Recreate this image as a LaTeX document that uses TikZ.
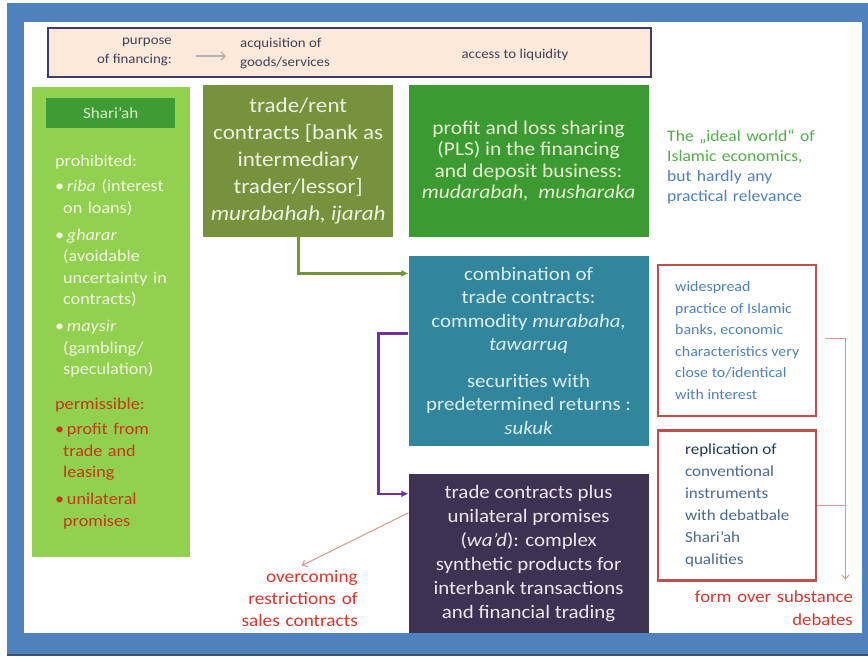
\documentclass[tikz,border=0pt]{standalone}
\usepackage{fontspec}
\setmainfont{Carlito}[FakeStretch=1.1]
\usetikzlibrary{
  arrows.meta,
  positioning
}
\definecolor{frameblue}{HTML}{4F81BD}
\definecolor{framedark}{HTML}{3A4F6A}
\definecolor{peach}{HTML}{FDE9D9}
\definecolor{barline}{HTML}{3C3C6E}
\definecolor{bartext}{HTML}{404058}
\definecolor{sharia}{HTML}{92D050}
\definecolor{shariadark}{HTML}{3E9B35}
\definecolor{shariatext}{HTML}{D8F0C0}
\definecolor{palegreen}{HTML}{F0F8E0}
\definecolor{permred}{HTML}{C03A12}
\definecolor{olive}{HTML}{76923C}
\definecolor{olivetext}{HTML}{EEF3E2}
\definecolor{plsgreen}{HTML}{3C9A32}
\definecolor{plstext}{HTML}{E6F0D0}
\definecolor{teal}{HTML}{31859C}
\definecolor{tealtext}{HTML}{DAEEF3}
\definecolor{plum}{HTML}{3F3151}
\definecolor{plumtext}{HTML}{ECE8F2}
\definecolor{purpleline}{HTML}{7030A0}
\definecolor{redline}{HTML}{C0504D}
\definecolor{pinkline}{HTML}{D99694}
\definecolor{notegreen}{HTML}{50B04A}
\definecolor{noteblue}{HTML}{4F81BD}
\definecolor{navytext}{HTML}{1F3A5F}
\definecolor{slatetext}{HTML}{4A6A94}
\definecolor{alertred}{HTML}{D9372B}
\tikzset{
  panel/.style={anchor=north west, inner sep=0pt, align=center},
  bigbox/.style={panel, minimum width=240pt},
  redbox/.style={
    panel,
    draw=redline,
    line width=2.4pt,
    fill=white,
    minimum width=158pt,
    align=left,
    font=\fontsize{14.5}{21.5}\selectfont
  },
  listtext/.style={
    anchor=north west,
    inner sep=0pt,
    align=left,
    text width=130pt,
    font=\fontsize{16.5}{21.5}\selectfont
  },
  bartxt/.style={inner sep=0pt, text=bartext, font=\fontsize{13.5}{19}\selectfont},
  note/.style={inner sep=0pt, text width=170pt, font=\fontsize{16}{20}\selectfont},
  connector/.style={line width=2.6pt, -{Latex[length=7pt,width=7pt]}},
  thinarrow/.style={draw=pinkline, line width=1pt, -{Straight Barb[length=4pt,width=7pt]}},
  grayarrow/.style={draw=black!30, line width=1.4pt, -{Straight Barb[length=4pt,width=8pt]}}
}

\begin{document}
\begin{tikzpicture}[x=1pt,y=-1pt]
  \useasboundingbox (0,0) rectangle (868,659);
  % frame
  \fill[frameblue] (7,3) rectangle (868,655);
  \draw[framedark, line width=1.2pt] (7,655) -- (868,655);
  \fill[white] (24,22) rectangle (862,633);

  % purpose bar
  \node[panel, fill=peach, draw=barline, line width=1.6pt,
    minimum width=603pt, minimum height=49pt] (purpose) at (47,27) {};
  \node[bartxt, align=right, anchor=east] (purp) at (172,52)
    {purpose\\of financing:};
  \node[bartxt, align=left, anchor=west] (acq) at (240,53)
    {acquisition of\\goods/services};
  \node[bartxt] (liq) at (515,55) {access to liquidity};
  \draw[grayarrow, shorten <=24pt, shorten >=14pt]
    ([yshift=-4pt]purp.east) -- ([yshift=-4pt]purp.east -| acq.west);

  % Shari'ah column
  \node[panel, fill=sharia, minimum width=158pt, minimum height=470pt]
    (sharia) at (32,87) {};
  \node[panel, fill=shariadark, text=shariatext, minimum width=129pt,
    minimum height=30pt, font=\fontsize{15.5}{16}\selectfont] (shlabel) at (46,98)
    {Shari’ah};
  \node[listtext, text=palegreen] (prohib) at (55,155) {prohibited:\\[3.5pt]
    \textbullet\,\textit{riba} (interest\\
    \hspace*{8pt}on loans)\\[5.5pt]
    \textbullet\,\textit{gharar}\\
    \hspace*{8pt}(avoidable\\
    \hspace*{8pt}uncertainty in\\
    \hspace*{8pt}contracts)\\[5.5pt]
    \textbullet\,\textit{maysir}\\
    \hspace*{8pt}(gambling/\\
    \hspace*{8pt}speculation)};
  \node[listtext, text=permred] (permit) at (55,398) {permissible:\\[3.5pt]
    \textbullet\,profit from\\
    \hspace*{8pt}trade and\\
    \hspace*{8pt}leasing\\[5.5pt]
    \textbullet\,unilateral\\
    \hspace*{8pt}promises};

  % contract boxes
  \node[panel, fill=olive, text=olivetext, minimum width=190pt,
    minimum height=152pt, font=\fontsize{21}{27}\selectfont] (trade) at (203,85)
    {trade/rent\\contracts [bank as\\intermediary\\trader/lessor]\\
     \textit{murabahah, ijarah}};
  \node[bigbox, fill=plsgreen, text=plstext, minimum height=152pt,
    font=\fontsize{19.5}{21.5}\selectfont, right=15pt of trade] (pls)
    {profit and loss sharing\\(PLS) in the financing\\and deposit business:\\
     \textit{mudarabah,\ \ musharaka}};
  \node[bigbox, fill=teal, text=tealtext, minimum height=190pt,
    font=\fontsize{19}{23.5}\selectfont, below=18pt of pls] (combo)
    {combination of\\trade contracts:\\commodity \textit{murabaha,}\\
     \textit{tawarruq}\\[13pt]securities with\\predetermined returns :\\
     \textit{sukuk}};
  \node[bigbox, fill=plum, text=plumtext, minimum height=159pt,
    font=\fontsize{19}{24}\selectfont, below=28pt of combo] (wad)
    {trade contracts plus\\unilateral promises\\(\textit{wa’d}): complex\\
     synthetic products for\\interbank transactions\\and financial trading};

  % assessment boxes
  \node[redbox, text=noteblue, minimum height=151pt] (practice) at (657,264)
    {widespread\\practice of Islamic\\banks, economic\\characteristics very\\
     close to/identical\\with interest};
  \node[redbox, text=slatetext, minimum height=150pt,
    font=\fontsize{15.5}{22}\selectfont, below=12pt of practice] (replica)
    {\textcolor{navytext}{replication of}\\conventional\\instruments\\
     with debatbale\\Shari’ah\\qualities};

  % side notes
  \node[note, anchor=west] (ideal) at (667,167)
    {\color{notegreen}The „ideal world“ of\\Islamic economics,\\
     \color{noteblue}but hardly any\\practical relevance};
  \node[note, text width=130pt, align=right, text=alertred, anchor=north east,
    font=\fontsize{17.5}{22}\selectfont] (overcome) at (358,570)
    {overcoming\\restrictions of\\sales contracts};
  \node[note, align=right, text=alertred, anchor=north east,
    font=\fontsize{17}{23}\selectfont] (debate) at (853,590)
    {form over substance\\debates};

  % connectors
  \draw[connector, draw=olive] (trade.south) |- ([yshift=-18pt]combo.north west);
  \draw[connector, draw=purpleline] ([yshift=-78pt]combo.north west)
    -- ++(-30pt,0pt) |- ([yshift=-20pt]wad.north west);
  \draw[thinarrow, shorten >=10pt] ([yshift=-39pt]wad.north west) -- (overcome.north);
  \coordinate (debend) at ([xshift=28pt,yshift=2pt]replica.south east);
  \draw[thinarrow] ([xshift=8pt,yshift=-74pt]practice.north east) -| (debend);
  \draw[draw=pinkline, line width=1pt] (replica.east) -- (replica.east -| debend);
\end{tikzpicture}
\end{document}
